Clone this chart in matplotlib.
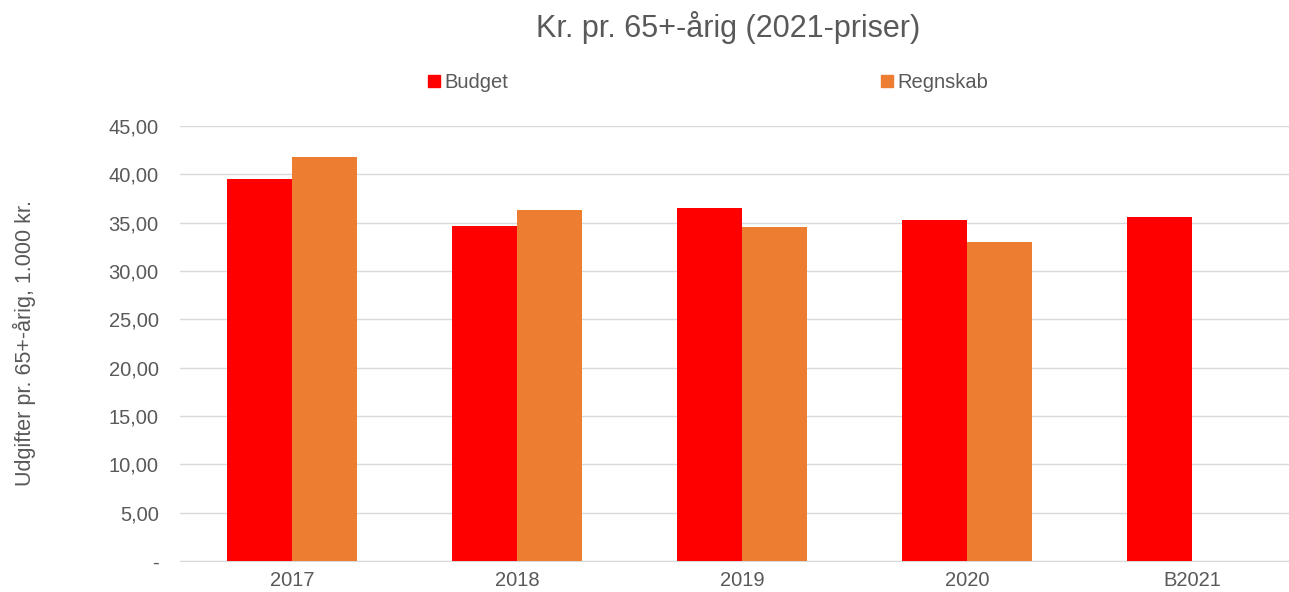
import matplotlib
matplotlib.use("Agg")
import matplotlib.pyplot as plt
import numpy as np
from matplotlib.lines import Line2D

categories = ["2017", "2018", "2019", "2020", "B2021"]
budget = [39.55, 34.7, 36.55, 35.25, 35.6]
regnskab = [41.8, 36.35, 34.55, 33.0, np.nan]
yticks = [0, 5, 10, 15, 20, 25, 30, 35, 40, 45]

plt.rcParams['font.family'] = ['Liberation Sans', 'DejaVu Sans']

fig = plt.figure(figsize=(12.89, 5.92), dpi=100)
ax = fig.add_axes([179.5/1289, 1-561/592, 1125/1289, (561-126)/592])

x = np.arange(len(categories))
w = 0.287
ax.bar(x - w/2, budget, w, color="#ff0000", zorder=3)
ax.bar(x + w/2, regnskab, w, color="#ed7d31", zorder=3)

ax.set_xlim(-0.5, len(categories) - 0.5)
ax.set_ylim(0, 45)
ax.set_yticks(yticks)
ax.set_yticklabels(["-" if v == 0 else f"{v:.2f}".replace(".", ",") for v in yticks])
ax.set_xticks(x)
ax.set_xticklabels(categories)
ax.tick_params(axis='both', length=0, labelsize=14.5, colors="#595959")
ax.tick_params(axis='y', pad=15)
ax.tick_params(axis='x', pad=7)
ax.yaxis.grid(True, color="#d9d9d9", linewidth=1, zorder=0)
for s in ["top", "right", "left"]:
    ax.spines[s].set_visible(False)
ax.spines["bottom"].set_color("#d9d9d9")

ax.set_ylabel("Udgifter pr. 65+-årig, 1.000 kr.", fontsize=15.5, color="#595959", labelpad=52)

fig.text(728/1289, 1-27/592, "Kr. pr. 65+-årig (2021-priser)", ha="center", va="center",
         fontsize=22, color="#595959")

handles = [Line2D([], [], marker="s", linestyle="none", color="#ff0000", markersize=8),
           Line2D([], [], marker="s", linestyle="none", color="#ed7d31", markersize=8)]
fig.legend(handles, ["Budget", "Regnskab"], loc="center", bbox_to_anchor=(706/1289, 1-83/592),
           ncol=2, frameon=False, fontsize=14.5, labelcolor="#595959", handletextpad=0.0,
           columnspacing=18.3, handlelength=1.0)

fig.savefig("out.png", dpi=100)
